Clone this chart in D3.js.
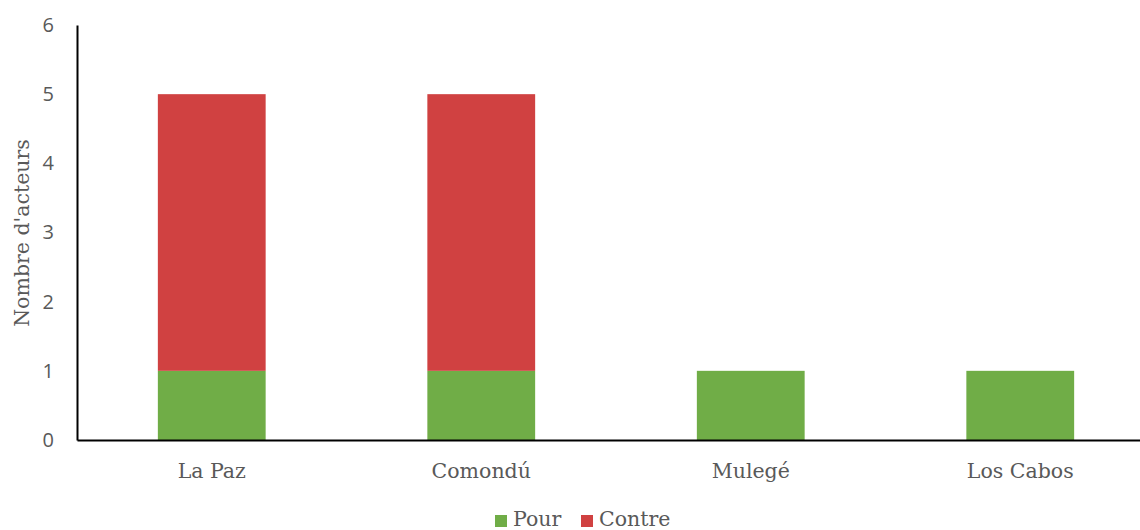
<!DOCTYPE html>
<html>
<head>
<meta charset="utf-8">
<script src="https://cdn.jsdelivr.net/npm/d3@7"></script>
<style>
body { margin: 0; background: #fff; }
</style>
</head>
<body>
<script>
// data
var categories = ["La Paz", "Comondú", "Mulegé", "Los Cabos"];
var pour = [1, 1, 1, 1];
var contre = [4, 4, 0, 0];
var seriesNames = ["Pour", "Contre"];
var seriesColors = ["#70AD47", "#D04141"];
var yTicks = [0, 1, 2, 3, 4, 5, 6];

var width = 1140, height = 530;

var svg = d3.select("body").append("svg")
	.attr("width", width)
	.attr("height", height);

var x = d3.scaleBand()
	.domain(categories)
	.range([77, 1155])
	.paddingInner(0.6)
	.paddingOuter(0.3);

var y = d3.scaleLinear()
	.domain([0, 6])
	.range([440, 25]);

//stack the two series
var rows = categories.map(function(c, i){
	return { cat: c, Pour: pour[i], Contre: contre[i] };
});
var stacked = d3.stack().keys(seriesNames)(rows);

svg.selectAll(".serie")
	.data(stacked)
	.enter()
	.append("g")
	.attr("fill", function(d, i){ return seriesColors[i]; })
	.selectAll("rect")
	.data(function(d){ return d; })
	.enter()
	.append("rect")
	.attr("x", function(d){ return x(d.data.cat); })
	.attr("width", x.bandwidth())
	.attr("y", function(d){ return y(d[1]); })
	.attr("height", function(d){ return y(d[0]) - y(d[1]); });

//y axis
var yAxis = svg.append("g")
	.attr("transform", "translate(77,0)")
	.call(d3.axisLeft(y).tickValues(yTicks).tickFormat(d3.format("d")).tickSize(0).tickPadding(23));
yAxis.select(".domain").attr("stroke", "#000").attr("stroke-width", 2);
yAxis.selectAll("text")
	.attr("fill", "#595959")
	.style("font-family", "'Open Sans', sans-serif")
	.style("font-size", "20px");

//x axis
var xAxis = svg.append("g")
	.attr("transform", "translate(0,440)")
	.call(d3.axisBottom(x).tickSize(0).tickPadding(23));
xAxis.select(".domain").attr("stroke", "#000").attr("stroke-width", 2);
xAxis.selectAll("text")
	.attr("fill", "#595959")
	.style("font-family", "'DejaVu Serif', serif")
	.style("font-size", "20.5px");

//axis title
svg.append("text")
	.attr("transform", "translate(29,233) rotate(-90)")
	.attr("text-anchor", "middle")
	.attr("fill", "#595959")
	.style("font-family", "'DejaVu Serif', serif")
	.style("font-size", "20.5px")
	.text("Nombre d'acteurs");

//legend
var legend = svg.append("g");
var legendX = [495, 581];
seriesNames.forEach(function(name, i){
	legend.append("rect")
		.attr("x", legendX[i])
		.attr("y", 515)
		.attr("width", 12)
		.attr("height", 12)
		.attr("fill", seriesColors[i]);
	legend.append("text")
		.attr("x", legendX[i] + 18)
		.attr("y", 526)
		.attr("fill", "#595959")
		.style("font-family", "'DejaVu Serif', serif")
		.style("font-size", "20.5px")
		.text(name);
});
</script>
</body>
</html>
